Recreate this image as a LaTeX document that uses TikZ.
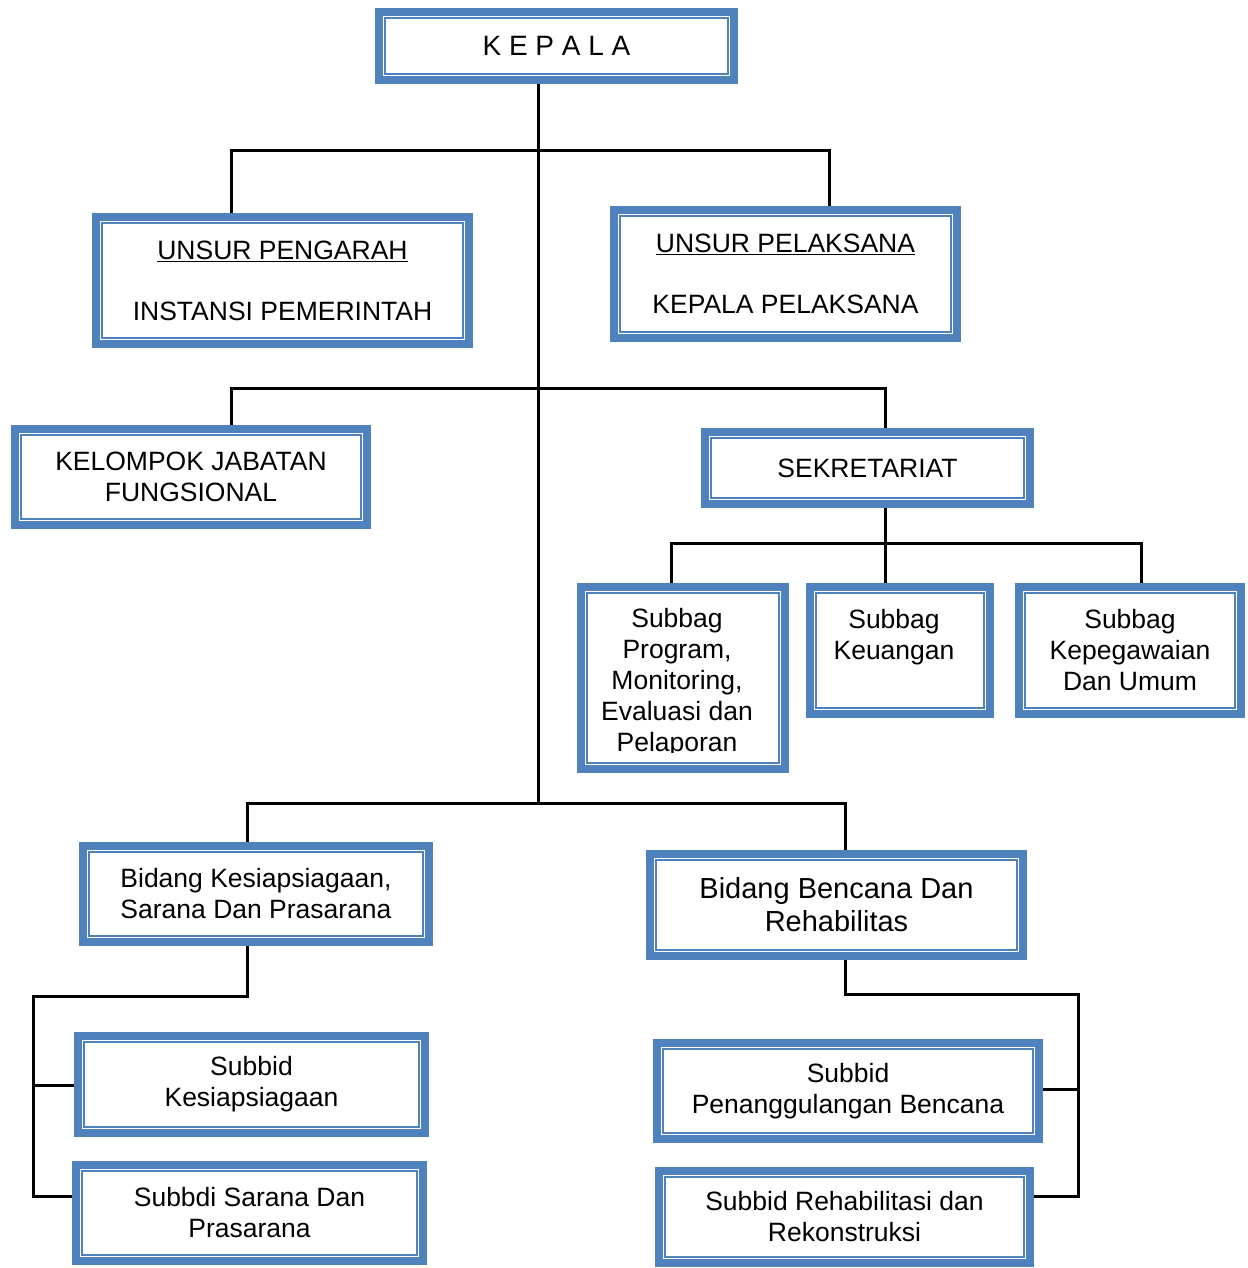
\documentclass[tikz,border=0pt]{standalone}
\usepackage{fontspec}
\setmainfont{Liberation Sans}
\definecolor{boxblue}{HTML}{4F81BD}
\pgfdeclarelayer{bg}
\pgfsetlayers{bg,main}
\tikzset{
  conn/.style={line width=3pt, black, line join=miter},
  obox/.style={draw=boxblue, line width=8pt, fill=white, align=center, inner sep=0pt,
    font=\fontsize{26.5}{31}\selectfont},
  ibox/.style={draw=boxblue, line width=1.8pt},
  txt/.style={align=center, inner sep=0pt, font=\fontsize{26.5}{31}\selectfont},
  bigtxt/.style={font=\fontsize{29}{33}\selectfont},
}
\newcommand{\mybox}[7][]{%
  \node[obox, minimum width={#5-#3-8}, minimum height={#6-#4-8}, #1] (#2) at ({(#3+#5)/2},{(#4+#6)/2}) {#7};
  \draw[ibox] ([xshift=10.3pt,yshift=-10.3pt]#2.north west) rectangle ([xshift=-10.3pt,yshift=10.3pt]#2.south east);
}
\begin{document}
\begin{tikzpicture}[x=1pt,y=-1pt]
\useasboundingbox (0,0) rectangle (1247,1268);
\mybox[font=\fontsize{28}{31}\selectfont]{kepala}{375}{8}{738}{84}{K E P A L A}
\mybox{pengarah}{92}{213}{473}{348}{\underline{UNSUR PENGARAH}\\[30pt]INSTANSI PEMERINTAH}
\mybox{pelaksana}{610}{206}{961}{342}{\underline{UNSUR PELAKSANA}\\[30pt]KEPALA PELAKSANA}
\mybox{kelompok}{11}{425}{371}{529}{KELOMPOK JABATAN\\FUNGSIONAL}
\mybox{sekr}{701}{428}{1034}{508}{SEKRETARIAT}
\mybox{prog}{577}{583}{789}{773}{}
\begin{scope}
  \clip (585,590) rectangle (782,752);
  \node[txt] (progt) at (677,682.5) {Subbag\\Program,\\Monitoring,\\Evaluasi dan\\Pelaporan};
\end{scope}
\mybox{keu}{806}{583}{994}{718}{}
\node[txt] (keut) at (894,637.5) {Subbag\\Keuangan};
\mybox{kep}{1015}{583}{1245}{718}{Subbag\\Kepegawaian\\Dan Umum}
\mybox{bid1}{79}{842}{433}{946}{Bidang Kesiapsiagaan,\\Sarana Dan Prasarana}
\mybox[bigtxt]{bid2}{646}{850}{1027}{960}{Bidang Bencana Dan\\Rehabilitas}
\mybox{sd1}{74}{1032}{429}{1137}{Subbid\\Kesiapsiagaan}
\mybox{sd2}{72}{1161}{427}{1265}{Subbdi Sarana Dan\\Prasarana}
\mybox{sd3}{653}{1039}{1043}{1143}{Subbid\\Penanggulangan Bencana}
\mybox{sd4}{655}{1167}{1034}{1267}{Subbid Rehabilitasi dan\\Rekonstruksi}

\coordinate (j1) at (538,151); \coordinate (j1l) at (231,151); \coordinate (j1r) at (829,151);
\coordinate (j2) at (538,388); \coordinate (j2l) at (231,388); \coordinate (j2r) at (885,388);
\coordinate (j3) at (538,803); \coordinate (j3l) at (247,803); \coordinate (j3r) at (845,803);
\coordinate (s1) at (885,543); \coordinate (s1l) at (671,543); \coordinate (s1r) at (1141,543);
\coordinate (b1) at (247,996); \coordinate (b1l) at (33,996); \coordinate (b1b) at (33,1196); \coordinate (b1m) at (33,1085);
\coordinate (b2) at (845,994); \coordinate (b2r) at (1078,994); \coordinate (b2b) at (1078,1196); \coordinate (b2m) at (1078,1089);

\begin{pgfonlayer}{bg}
\draw[conn] (kepala.south -| j1) -- (j3);
\draw[conn] (pengarah.north -| j1l) -- (j1l) -- (j1r) -- (pelaksana.north -| j1r);
\draw[conn] (kelompok.north -| j2l) -- (j2l) -- (j2r) -- (sekr.north -| j2r);
\draw[conn] (sekr.south -| s1) -- (keu.north -| s1);
\draw[conn] (prog.north -| s1l) -- (s1l) -- (s1r) -- (kep.north -| s1r);
\draw[conn] (bid1.north -| j3l) -- (j3l) -- (j3r) -- (bid2.north -| j3r);
\draw[conn] (bid1.south -| b1) -- (b1) -- (b1l) -- (b1b) -- (sd2.west |- b1b);
\draw[conn] (b1m) -- (sd1.west |- b1m);
\draw[conn] (bid2.south -| b2) -- (b2) -- (b2r) -- (b2b) -- (sd4.east |- b2b);
\draw[conn] (b2m) -- (sd3.east |- b2m);
\end{pgfonlayer}
\end{tikzpicture}
\end{document}
